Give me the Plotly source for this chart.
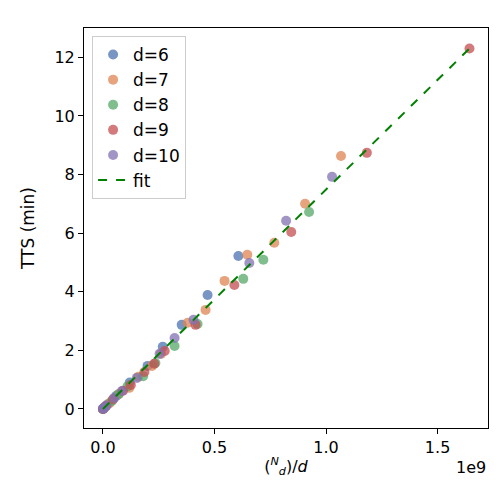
import plotly.graph_objects as go

# x in units of 1e9, TTS in minutes
d6_x = [0.0, 0.005, 0.02, 0.06, 0.12, 0.2, 0.268, 0.353, 0.469, 0.607]
d6_y = [0.0, 0.04, 0.15, 0.45, 0.9, 1.47, 2.12, 2.87, 3.89, 5.22]
d7_x = [0.0, 0.008, 0.03, 0.07, 0.118, 0.158, 0.22, 0.26, 0.38, 0.46, 0.545, 0.647, 0.768, 0.906, 1.067]
d7_y = [0.0, 0.06, 0.2, 0.5, 0.72, 1.1, 1.47, 1.88, 2.94, 3.38, 4.37, 5.26, 5.67, 7.0, 8.63]
d8_x = [0.0, 0.01, 0.04, 0.07, 0.11, 0.18, 0.235, 0.321, 0.424, 0.629, 0.719, 0.924]
d8_y = [0.0, 0.07, 0.27, 0.5, 0.77, 1.12, 1.57, 2.15, 2.9, 4.44, 5.09, 6.72]
d9_x = [0.0, 0.012, 0.045, 0.09, 0.125, 0.186, 0.23, 0.277, 0.415, 0.589, 0.844, 1.183, 1.643]
d9_y = [0.0, 0.09, 0.33, 0.62, 0.82, 1.26, 1.54, 1.98, 2.87, 4.23, 6.04, 8.74, 12.3]
d10_x = [0.0, 0.004, 0.015, 0.05, 0.085, 0.152, 0.254, 0.321, 0.406, 0.656, 0.821, 1.027]
d10_y = [0.0, 0.03, 0.11, 0.37, 0.61, 1.06, 1.88, 2.42, 3.04, 4.98, 6.42, 7.92]
fit_x = [0.0, 1.643]
fit_y = [0.0, 12.3]

series = [("d=6", d6_x, d6_y, "#4C72B0"), ("d=7", d7_x, d7_y, "#DD8452"),
          ("d=8", d8_x, d8_y, "#55A868"), ("d=9", d9_x, d9_y, "#C44E52"),
          ("d=10", d10_x, d10_y, "#8172B3")]

fig = go.Figure()
for name, xs, ys, c in series:
    fig.add_trace(go.Scatter(x=xs, y=ys, mode="markers", name=name,
                             marker=dict(color=c, size=10, opacity=0.75)))
fig.add_trace(go.Scatter(x=fit_x, y=fit_y, mode="lines", name="fit",
                         line=dict(color="green", dash="dash", width=2)))

axis = dict(showgrid=False, zeroline=False, showline=True, linecolor="black",
            mirror=True, ticks="outside", ticklen=5, tickcolor="black",
            automargin=False, tickfont=dict(size=16, color="black"))
fig.update_xaxes(range=[-0.085, 1.726], tickvals=[0, 0.5, 1.0, 1.5],
                 ticktext=["0.0", "0.5", "1.0", "1.5"],
                 title=dict(text="(<sup><i>N</i></sup><sub><i>d</i></sub>)/<i>d</i>",
                            font=dict(size=16, color="black"), standoff=4), **axis)
fig.update_yaxes(range=[-0.65, 13.0], tickvals=[0, 2, 4, 6, 8, 10, 12],
                 title=dict(text="TTS (min)", font=dict(size=17, color="black")), **axis)

fig.add_annotation(text="1e9", xref="paper", yref="paper", x=1.0, y=-0.07,
                   xanchor="right", yanchor="top", showarrow=False,
                   font=dict(size=16, color="black"))

fig.update_layout(
    width=500, height=500,
    margin=dict(l=76, r=20, t=20, b=80),
    plot_bgcolor="white", paper_bgcolor="white",
    font=dict(family="DejaVu Sans"),
    legend=dict(x=0.02, y=0.98, xanchor="left", yanchor="top",
                bordercolor="#cccccc", borderwidth=1, bgcolor="rgba(255,255,255,0.8)",
                font=dict(size=17, color="black")),
)

fig.write_html("out.html")
